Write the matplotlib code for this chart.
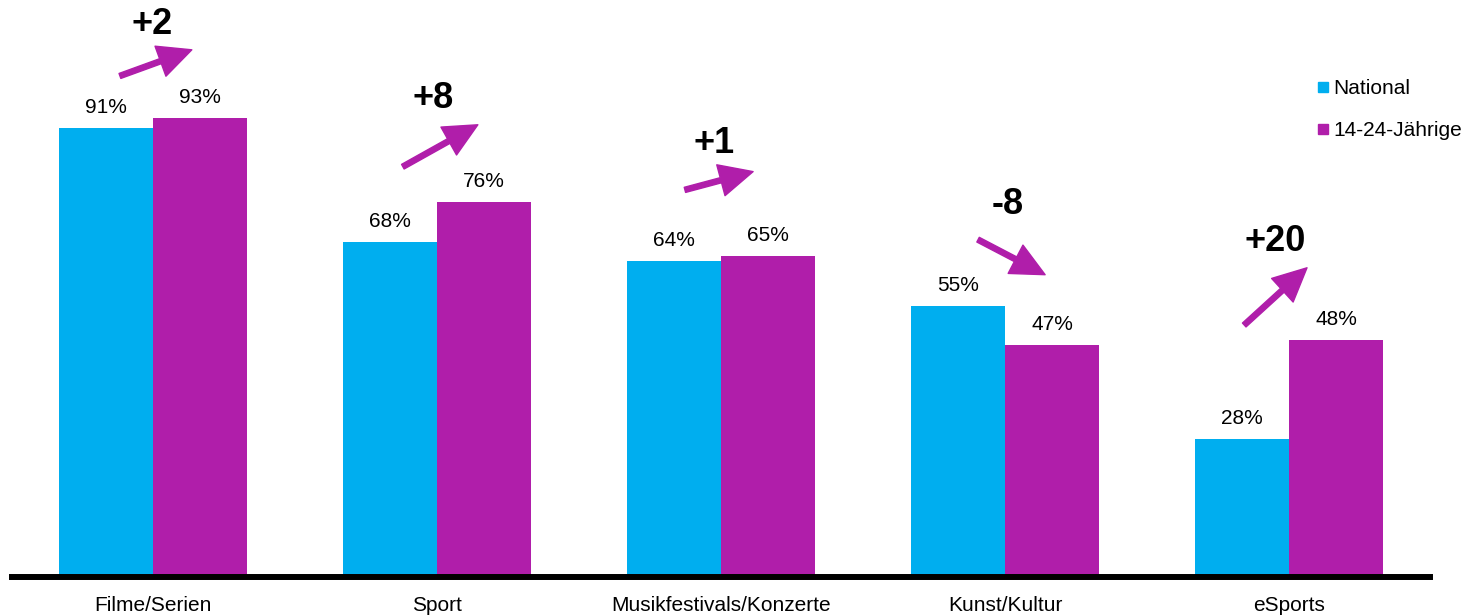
import numpy as np
import matplotlib
matplotlib.use("Agg")
from matplotlib import pyplot as plt
from matplotlib.lines import Line2D

plt.rcParams['font.family'] = ['Liberation Sans', 'DejaVu Sans']

categories = ["Filme/Serien", "Sport", "Musikfestivals/Konzerte", "Kunst/Kultur", "eSports"]
national = [91, 68, 64, 55, 28]
youth = [93, 76, 65, 47, 48]
series_names = ["National", "14-24-Jährige"]

blue = "#00AEEF"
purple = "#B01EAA"

# arrow tail/head (x offset from group centre, y in %) and delta label spots
arrow_tail = [(-0.116, 101.6), (-0.120, 83.2), (-0.127, 78.5), (-0.095, 68.4), (-0.158, 51.1)]
arrow_head = [(0.137, 106.9), (0.144, 91.7), (0.113, 82.2), (0.141, 61.3), (0.063, 62.7)]
delta_pos = [(-0.004, 112.0), (-0.014, 97.0), (-0.025, 88.0), (0.010, 75.5), (-0.050, 68.0)]


def main():
    fig = plt.figure(figsize=(14.66, 6.16), dpi=100)
    ax = fig.add_axes([12 / 1466, 39 / 616, 1418 / 1466, 577 / 616])

    x = np.arange(len(categories))
    w = 0.331
    ax.bar(x - w / 2, national, w, color=blue, zorder=2)
    ax.bar(x + w / 2, youth, w, color=purple, zorder=2)

    for i in range(len(categories)):
        ax.annotate(f"{national[i]}%", (x[i] - w / 2, national[i]), xytext=(0, 8),
                    textcoords="offset points", ha="center", va="bottom", fontsize=15)
        ax.annotate(f"{youth[i]}%", (x[i] + w / 2, youth[i]), xytext=(0, 8),
                    textcoords="offset points", ha="center", va="bottom", fontsize=15)

        tx, ty = arrow_tail[i]
        hx, hy = arrow_head[i]
        ax.annotate("", xy=(x[i] + hx, hy), xytext=(x[i] + tx, ty),
                    arrowprops=dict(arrowstyle="simple,head_length=1.2,head_width=1.15,tail_width=0.19",
                                    color=purple, shrinkA=0, shrinkB=0, mutation_scale=20))

        d = youth[i] - national[i]
        dx, dy = delta_pos[i]
        ax.text(x[i] + dx, dy, f"{d:+d}", ha="center", va="center",
                fontsize=26, fontweight="bold")

    ax.set_xlim(-0.496, 4.496)
    ax.set_ylim(0, 117)
    ax.set_xticks(x)
    ax.set_xticklabels(categories, fontsize=15)
    ax.tick_params(axis="x", length=0, pad=14)
    ax.set_yticks([])
    for s in ["top", "right", "left"]:
        ax.spines[s].set_visible(False)
    ax.spines["bottom"].set_linewidth(4.3)
    ax.spines["bottom"].set_zorder(3)

    handles = [Line2D([], [], marker="s", linestyle="", markersize=7, color=blue),
               Line2D([], [], marker="s", linestyle="", markersize=7, color=purple)]
    ax.legend(handles, series_names, loc="upper left", bbox_to_anchor=(1317 / 1466, 1 - 79 / 616),
              bbox_transform=fig.transFigure, frameon=False, fontsize=15, handlelength=0.6,
              handletextpad=0.2, labelspacing=1.1, borderaxespad=0, borderpad=0)

    ax.patch.set_visible(False)
    fig.savefig("out.png", dpi=100)


if __name__ == "__main__":
    main()
